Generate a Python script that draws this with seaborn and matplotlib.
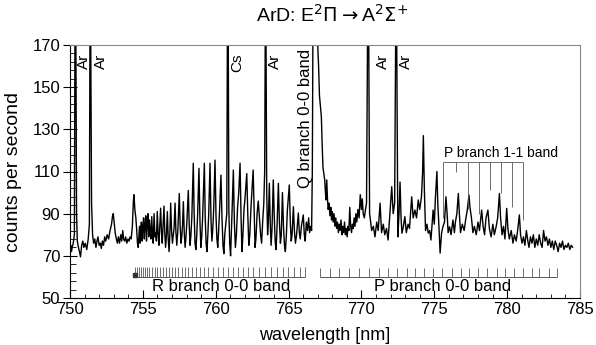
import numpy as np
import pandas as pd
import seaborn as sns
import matplotlib.pyplot as plt
from matplotlib.ticker import MultipleLocator, FixedLocator

# ---- spectrum trace (wavelength nm, counts per second) ----
wl = [
    # 750 - 754.5, Ar lines + baseline
    750.00, 750.05, 750.10, 750.15, 750.22, 750.30, 750.34, 750.40, 750.45, 750.50,
    750.58, 750.65, 750.72, 750.80, 750.88, 750.95, 751.05, 751.15, 751.25, 751.33,
    751.37, 751.42, 751.48, 751.55, 751.62, 751.70, 751.78, 751.85, 751.92, 752.00,
    752.08, 752.15, 752.22, 752.30, 752.38, 752.45, 752.55, 752.65, 752.75, 752.85,
    752.92, 752.97, 753.03, 753.10, 753.18, 753.25, 753.32, 753.40, 753.48, 753.55,
    753.62, 753.68, 753.75, 753.82, 753.90, 753.98, 754.05, 754.12, 754.20, 754.28,
    754.35, 754.39,
    # R branch 0-0
    754.45, 754.52, 754.58, 754.63, 754.68, 754.73, 754.77, 754.81, 754.85, 754.90,
    754.95, 755.00, 755.05, 755.10, 755.15, 755.20, 755.25, 755.30, 755.35, 755.40,
    755.45, 755.50, 755.55, 755.61, 755.66, 755.71, 755.77, 755.83, 755.88, 755.93,
    755.99, 756.05, 756.10, 756.15, 756.22, 756.28, 756.33, 756.38, 756.45, 756.51,
    756.56, 756.62, 756.68, 756.74, 756.80, 756.85, 756.91, 756.97, 757.03, 757.08,
    757.14, 757.21, 757.27, 757.33, 757.40, 757.50, 757.56, 757.62, 757.68, 757.72,
    757.78, 757.84, 757.90, 757.96, 758.02, 758.12, 758.18, 758.24, 758.30, 758.36,
    758.46, 758.52, 758.58, 758.64, 758.70, 758.76, 758.85, 758.92, 758.98, 759.04,
    759.10, 759.22, 759.28, 759.34, 759.40, 759.46, 759.52, 759.61, 759.68, 759.74,
    759.80, 759.86, 759.95, 760.02, 760.08, 760.14, 760.20, 760.28, 760.36, 760.43,
    760.50, 760.56, 760.62, 760.70, 760.76, 760.80, 760.86, 760.90, 760.96, 761.02,
    761.08, 761.14, 761.21, 761.28, 761.35, 761.42, 761.50, 761.58, 761.67, 761.74,
    761.80, 761.86, 761.94, 762.02, 762.13, 762.20, 762.27, 762.34, 762.42, 762.50,
    762.57, 762.64, 762.70, 762.76, 762.84, 762.92, 763.00, 763.08, 763.15, 763.22,
    763.30, 763.36, 763.40, 763.45, 763.50, 763.56, 763.62, 763.68, 763.74, 763.80,
    763.86, 763.95, 764.02, 764.08, 764.14, 764.20, 764.30, 764.37, 764.44, 764.50,
    764.58, 764.65, 764.72, 764.78, 764.85, 764.92, 765.05, 765.12, 765.18, 765.24,
    765.33, 765.40, 765.47, 765.55, 765.67, 765.74, 765.80, 765.88, 766.01, 766.08,
    766.14, 766.22, 766.30, 766.38, 766.44, 766.52,
    # Q branch head and tail
    766.58, 766.63, 766.67, 766.97, 767.06, 767.12, 767.20, 767.25, 767.30, 767.36,
    767.42, 767.48, 767.53, 767.57, 767.62, 767.67, 767.72, 767.78, 767.84, 767.90,
    767.95, 768.00, 768.06, 768.12, 768.18, 768.24, 768.30, 768.36, 768.42, 768.48,
    768.54, 768.60, 768.66, 768.72, 768.78, 768.84, 768.90, 768.96, 769.02, 769.08,
    769.14, 769.20, 769.26, 769.32, 769.38, 769.44, 769.50, 769.56, 769.62, 769.68,
    769.76, 769.84, 769.92, 770.00, 770.06, 770.12, 770.20, 770.28, 770.35, 770.42,
    770.50, 770.56,
    # P branch region
    770.60, 770.70, 770.82, 770.93, 771.05, 771.15, 771.28, 771.38, 771.50, 771.60,
    771.72, 771.83, 771.95, 772.08, 772.18, 772.28, 772.35, 772.42, 772.50, 772.58,
    772.65, 772.72, 772.78, 772.88, 772.98, 773.08, 773.20, 773.30, 773.45, 773.55,
    773.67, 773.78, 773.90, 774.00, 774.12, 774.20, 774.25, 774.32, 774.40, 774.50,
    774.58, 774.68, 774.77, 774.92, 775.00, 775.08, 775.18, 775.24, 775.32, 775.40,
    775.50, 775.60, 775.70, 775.80, 775.88, 775.95, 776.05, 776.15, 776.28, 776.38,
    776.45, 776.55, 776.65, 776.72, 776.80, 776.92, 777.05, 777.15, 777.27, 777.38,
    777.45, 777.55, 777.65, 777.75, 777.88, 778.00, 778.10, 778.25, 778.35, 778.45,
    778.55, 778.68, 778.78, 778.90, 779.02, 779.12, 779.25, 779.35, 779.47, 779.55,
    779.65, 779.75, 779.85, 779.97, 780.05, 780.15, 780.28, 780.40, 780.50, 780.62,
    780.72, 780.84, 780.92, 781.02, 781.12, 781.22, 781.32, 781.42, 781.50, 781.60,
    781.70, 781.80, 781.90, 782.00, 782.10, 782.20, 782.30, 782.40, 782.50, 782.60,
    782.70, 782.80, 782.90, 783.00, 783.10, 783.20, 783.30, 783.40, 783.50, 783.60,
    783.70, 783.80, 783.90, 784.00, 784.10, 784.20, 784.30, 784.40, 784.50,
]
counts = [
    73, 75, 72, 74, 76, 80, 175, 175, 90, 77,
    74, 72, 69.5, 75, 77, 74, 76, 73, 78, 85,
    175, 175, 95, 80, 76, 78, 74, 77, 79, 75,
    76, 73.5, 77, 75, 79, 77, 80, 78, 82, 85,
    89, 90, 86, 81, 78, 76, 79, 76, 80, 77,
    82, 78, 77, 79, 76, 78, 77, 79, 78, 84,
    96, 99,
    92, 88, 82, 76, 74, 80, 84, 76, 82, 86,
    77, 84, 88, 78, 85, 89, 77, 86, 90, 79,
    87, 82, 78, 88.6, 80, 76, 90, 79, 81, 77,
    91, 80, 75, 82, 92.6, 81, 76, 83, 93.6, 80,
    74, 80, 91, 78, 72, 80, 95, 82, 76, 79,
    83, 95, 81, 75, 82, 99.6, 84, 76, 80, 84,
    95.7, 81, 74, 79, 86, 101, 85, 75, 80, 88,
    113.9, 90, 76, 73, 80, 90, 111.5, 86, 74, 79,
    88, 113.9, 88, 76, 72, 80, 90, 113.9, 86, 77,
    83, 92, 115.4, 89, 78, 74, 82, 94, 108.3, 88,
    75, 71, 80, 86, 90, 175, 175, 92, 76, 70,
    82, 95, 110.7, 86, 74, 80, 93, 100, 113.9, 88,
    72, 79, 92, 98, 109, 90, 75, 80, 93, 102,
    110.7, 90, 74, 78, 90, 96, 88, 80, 76, 86,
    95, 110, 175, 175, 100, 80, 88, 104.4, 86, 75,
    82, 106, 88, 77, 73, 82, 104.4, 86, 76, 80,
    100, 84, 75, 72, 80, 92, 103.6, 86, 77, 80,
    93.3, 82, 76, 80, 90.3, 81, 78, 84, 89.4, 80,
    77, 86, 82, 88, 81, 84,
    82, 110, 175, 175, 160, 146, 140, 136, 124, 112,
    109, 106, 100, 96.5, 106, 97, 92, 95, 89, 93,
    87, 91, 86, 90, 84, 88, 83, 86, 81, 85,
    82, 87, 80, 84, 81, 86, 80, 83, 79, 84,
    82, 93, 84, 81, 85, 83, 88, 84, 90, 86,
    92, 88, 99, 92, 97, 90, 88, 92, 95, 175,
    175, 90,
    88, 82, 84, 79, 86, 82, 95, 81, 85, 80,
    83, 77.5, 90, 102.8, 90, 95, 175, 175, 79, 90,
    105, 88, 80.7, 84, 88.6, 81, 85, 83, 98, 88,
    91.7, 88, 96.5, 92, 98, 110, 127, 101, 82, 85,
    80.8, 82, 77.5, 91.7, 85, 98, 110, 95, 83.8, 71.3,
    80.8, 84, 86, 98, 90, 81, 83.8, 80, 87, 81,
    86, 90, 99.6, 90, 81, 85, 82, 87, 92, 98.8,
    93, 88, 81, 84, 80, 86, 82, 91.7, 84, 80,
    88, 91.7, 83, 79, 85, 80, 84, 88, 99.6, 88,
    80, 84, 78, 92.5, 83, 78, 82, 76, 80, 77,
    82, 89.4, 80, 76, 79, 75, 82, 77, 74, 79,
    76, 80, 74, 78, 75, 80, 76, 74, 82, 77,
    79, 75, 78, 74, 77, 73, 77, 75, 72, 76,
    74, 77, 73, 75, 74, 76, 73, 75, 74,
]

y_ticks = [50, 70, 90, 110, 130, 150, 170]

# line labels
line_names = ["Ar", "Ar", "Cs", "Ar", "Ar", "Ar"]
line_label_x = [750.95, 752.1, 761.45, 764.1, 771.45, 773.05]

# branch tick positions (nm)
r_ticks = [754.46, 754.6, 754.74, 754.87, 755.01, 755.15, 755.28, 755.42, 755.61,
           755.83, 755.99, 756.18, 756.4, 756.59, 756.82, 757.0, 757.21, 757.43,
           757.67, 757.89, 758.12, 758.35, 758.65, 758.92, 759.2, 759.49, 759.84,
           760.18, 760.48, 760.86, 761.21, 761.55, 761.89, 762.24, 762.58, 762.99,
           763.38, 763.77, 764.19, 764.6, 764.98, 765.37, 765.79, 766.13]
p_ticks = [767.16, 767.84, 768.48, 769.17, 769.86, 770.54, 771.23, 771.85, 772.47,
           773.11, 773.68, 774.3, 774.94, 775.56, 776.2, 776.82, 777.41, 778.03,
           778.65, 779.3, 779.87, 780.48, 781.08, 781.7, 782.22, 782.84, 783.45]
p11_ticks = [775.62, 776.47, 777.3, 778.07, 778.83, 779.56, 780.32, 781.07]
p11_bottom = [88, 110, 92, 90, 101, 100, 93, 87]

df = pd.DataFrame({"wavelength": wl, "counts": counts})

sns.set_style("ticks")
plt.rcParams["font.family"] = ["Liberation Sans", "DejaVu Sans"]
plt.rcParams["text.color"] = "black"
plt.rcParams["axes.labelcolor"] = "black"
plt.rcParams["xtick.color"] = "black"
plt.rcParams["ytick.color"] = "black"
plt.rcParams["axes.edgecolor"] = "black"

fig = plt.figure(figsize=(5.96, 3.45), dpi=100)
ax = fig.add_axes([70 / 596, 1 - 298 / 345, 510 / 596, 253 / 345])

sns.lineplot(data=df, x="wavelength", y="counts", ax=ax, color="black",
             linewidth=1.0, estimator=None, sort=False)

ax.set_xlim(750, 785)
ax.set_ylim(50, 170)
ax.xaxis.set_major_locator(MultipleLocator(5))
ax.xaxis.set_minor_locator(MultipleLocator(1))
ax.yaxis.set_major_locator(FixedLocator(y_ticks))
ax.yaxis.set_minor_locator(MultipleLocator(4, offset=2))
ax.tick_params(axis="x", which="major", direction="in", length=6, width=0.8, labelsize=12, pad=3)
ax.tick_params(axis="x", which="minor", direction="in", length=3, width=0.6)
ax.tick_params(axis="y", which="major", direction="inout", length=10, width=0.8, labelsize=12, pad=2)
ax.tick_params(axis="y", which="minor", direction="in", length=4, width=0.6)
for s in ["top", "right"]:
    ax.spines[s].set_color("#888888")
    ax.spines[s].set_linestyle((0, (2, 1)))
    ax.spines[s].set_linewidth(0.8)

ax.set_xlabel("wavelength [nm]", fontsize=13)
ax.set_ylabel("counts per second", fontsize=14)
ax.xaxis.set_label_coords(0.5, -0.115)
ax.yaxis.set_label_coords(-0.094, 0.5)

fig.text(332 / 596, 1 - 15 / 345, r"ArD: E$^2\Pi\rightarrow$A$^2\Sigma^{+}$",
         ha="center", va="center", fontsize=14)

# labels of atomic lines
for name, x in zip(line_names, line_label_x):
    ax.text(x, 166, name, rotation=90, ha="center", va="top", fontsize=11)
ax.text(766.15, 168, "Q branch 0-0 band", rotation=90, ha="center", va="top", fontsize=12)

# R branch bracket
ax.hlines(60, r_ticks[0], r_ticks[-1], color="#555555", lw=0.7)
ax.vlines(r_ticks, 60, 64.5, color="#555555", lw=0.6)
ax.plot([r_ticks[0]], [61], marker="s", ms=2.5, color="#333333")
ax.text(760.4, 55.3, "R branch 0-0 band", ha="center", va="center", fontsize=12)

# P branch bracket
ax.hlines(60, p_ticks[0], p_ticks[-1], color="#555555", lw=0.7)
ax.vlines(p_ticks, 60, 64, color="#555555", lw=0.6)
ax.text(775.6, 55.3, "P branch 0-0 band", ha="center", va="center", fontsize=12)

# P branch 1-1 bracket
ax.hlines(114.6, p11_ticks[0], p11_ticks[-1], color="#555555", lw=0.6)
ax.vlines(p11_ticks, p11_bottom, 114.6, color="#555555", lw=0.6)
ax.text(775.65, 115.3, "P branch 1-1 band", ha="left", va="bottom", fontsize=10)

fig.savefig("out.png", dpi=100)
